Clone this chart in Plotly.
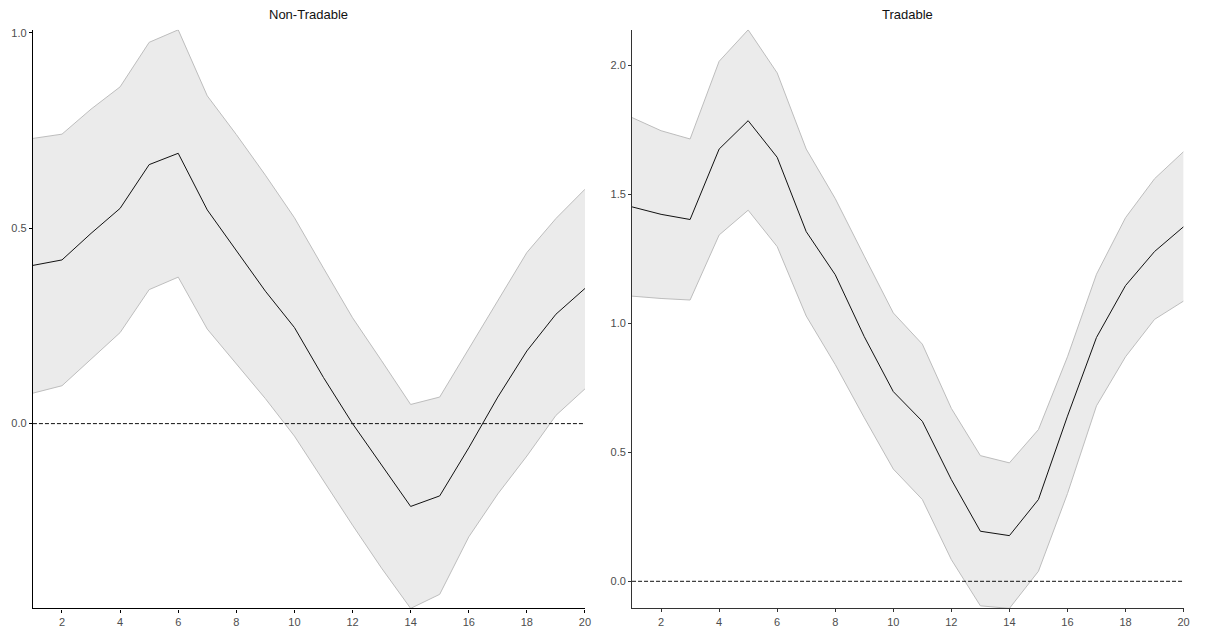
import plotly.graph_objects as go

periods = list(range(1, 21))

nt_mean = [0.405, 0.419, 0.487, 0.551, 0.663, 0.692, 0.547, 0.443, 0.339, 0.246,
           0.118, 0.0, -0.107, -0.212, -0.185, -0.062, 0.068, 0.186, 0.280, 0.346]
nt_upper = [0.730, 0.741, 0.805, 0.862, 0.976, 1.008, 0.839, 0.740, 0.636, 0.527,
            0.398, 0.271, 0.161, 0.049, 0.068, 0.191, 0.315, 0.438, 0.525, 0.600]
nt_lower = [0.078, 0.097, 0.165, 0.233, 0.343, 0.375, 0.242, 0.152, 0.064, -0.032,
            -0.147, -0.260, -0.370, -0.473, -0.437, -0.290, -0.180, -0.083, 0.021, 0.089]

tr_mean = [1.451, 1.422, 1.402, 1.675, 1.785, 1.643, 1.355, 1.188, 0.948, 0.735,
           0.620, 0.394, 0.194, 0.177, 0.317, 0.640, 0.945, 1.146, 1.278, 1.374]
tr_upper = [1.797, 1.746, 1.714, 2.015, 2.137, 1.970, 1.675, 1.483, 1.260, 1.040,
            0.919, 0.670, 0.487, 0.459, 0.588, 0.870, 1.190, 1.409, 1.560, 1.665]
tr_lower = [1.105, 1.096, 1.090, 1.342, 1.438, 1.297, 1.028, 0.840, 0.634, 0.435,
            0.317, 0.084, -0.095, -0.105, 0.039, 0.340, 0.680, 0.870, 1.015, 1.086]

titles = ["Non-Tradable", "Tradable"]
x_ticks = [2, 4, 6, 8, 10, 12, 14, 16, 18, 20]
nt_yticks = [0.0, 0.5, 1.0]
tr_yticks = [0.0, 0.5, 1.0, 1.5, 2.0]

BAND_FILL = "#ebebeb"
BAND_EDGE = "#bdbdbd"
FONT = "Liberation Sans, Arial, sans-serif"

fig = go.Figure()

panels = [
    ("x", "y", nt_mean, nt_upper, nt_lower),
    ("x2", "y2", tr_mean, tr_upper, tr_lower),
]
for xa, ya, mean, upper, lower in panels:
    fig.add_trace(go.Scatter(x=periods, y=lower, xaxis=xa, yaxis=ya, mode="lines",
                             line=dict(color=BAND_EDGE, width=1), hoverinfo="skip",
                             showlegend=False))
    fig.add_trace(go.Scatter(x=periods, y=upper, xaxis=xa, yaxis=ya, mode="lines",
                             fill="tonexty", fillcolor=BAND_FILL,
                             line=dict(color=BAND_EDGE, width=1), hoverinfo="skip",
                             showlegend=False))
    fig.add_trace(go.Scatter(x=periods, y=mean, xaxis=xa, yaxis=ya, mode="lines",
                             line=dict(color="#111111", width=1), showlegend=False))
    fig.add_shape(type="line", xref=xa + " domain", yref=ya, x0=0, x1=1, y0=0, y1=0,
                  line=dict(color="#111111", width=1, dash="4px,2px"), layer="above")

axis_common = dict(showgrid=False, zeroline=False, showline=True, ticks="outside",
                   ticklen=3, tickwidth=1, tickfont=dict(family=FONT, size=11, color="#4d4d4d"))

fig.update_layout(
    width=1206, height=628,
    margin=dict(l=0, r=0, t=0, b=0),
    paper_bgcolor="white", plot_bgcolor="white",
    showlegend=False,
    xaxis=dict(domain=[0.02745, 0.48748], range=[1, 20], tickvals=x_ticks,
               linecolor="#000000", linewidth=1.3, tickcolor="#000000", anchor="y", **axis_common),
    yaxis=dict(domain=[0.0298, 0.957], range=[min(nt_lower), max(nt_upper)],
               tickvals=nt_yticks, tickformat=".1f",
               linecolor="#000000", linewidth=1.3, tickcolor="#000000", anchor="x", **axis_common),
    xaxis2=dict(domain=[0.5267, 0.98632], range=[1, 20], tickvals=x_ticks,
                linecolor="#333333", linewidth=1, tickcolor="#333333", anchor="y2", **axis_common),
    yaxis2=dict(domain=[0.0298, 0.957], range=[min(tr_lower), max(tr_upper)],
                tickvals=tr_yticks, tickformat=".1f",
                linecolor="#333333", linewidth=1, tickcolor="#333333", anchor="x2", **axis_common),
    annotations=[
        dict(text=titles[0], xref="x domain", yref="paper", x=0.5, y=1 - 12 / 628,
             showarrow=False, xanchor="center", yanchor="middle",
             font=dict(family=FONT, size=13, color="#111111")),
        dict(text=titles[1], xref="x2 domain", yref="paper", x=0.5, y=1 - 12 / 628,
             showarrow=False, xanchor="center", yanchor="middle",
             font=dict(family=FONT, size=13, color="#111111")),
    ],
)

fig.write_html("out.html")
